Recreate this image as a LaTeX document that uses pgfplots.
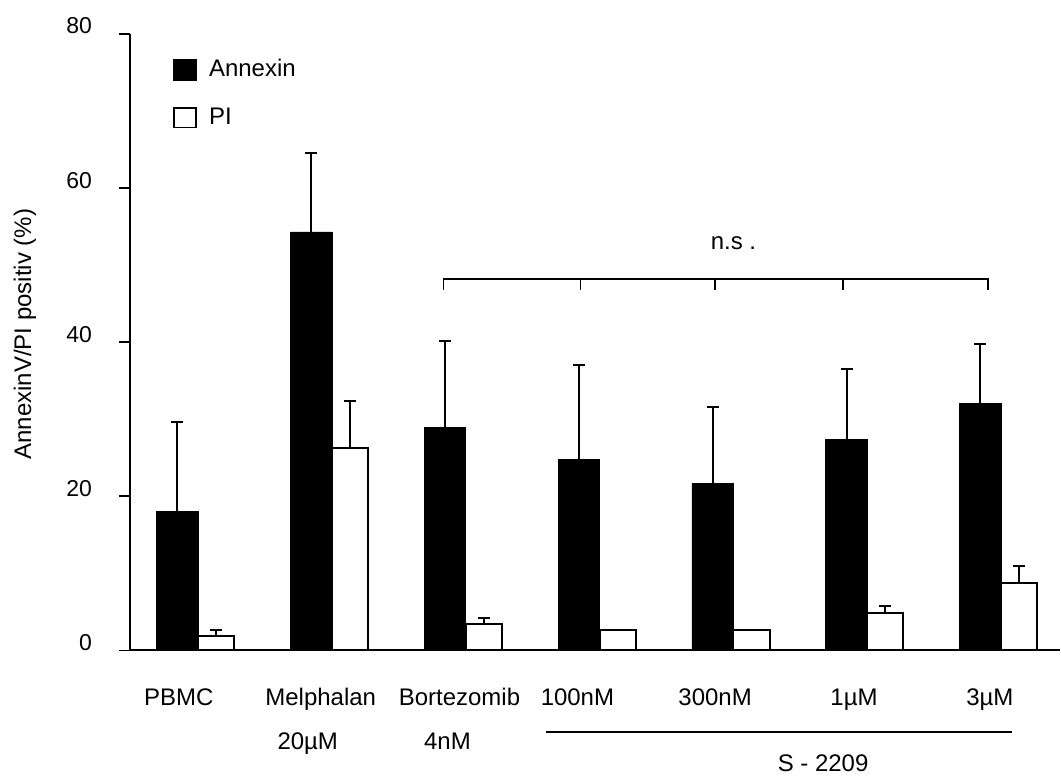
\documentclass[border=0pt]{standalone}
\usepackage{fontspec}
\setmainfont{Liberation Sans}
\usepackage{pgfplots}
\pgfplotsset{compat=1.18}
\begin{document}
\begin{tikzpicture}[font=\fontsize{12}{14}\selectfont]
\begin{axis}[
  name=ax,
  scale only axis,
  width=465.5pt, height=308.5pt,
  xmin=-0.51, xmax=6.44,
  ymin=0, ymax=80,
  clip=false,
  ybar,
  axis x line=bottom, axis y line=left,
  axis line style={-, line width=1pt},
  ytick={0,20,40,60,80},
  tick align=outside,
  major tick length=5.5pt,
  ytick style={line width=0.8pt, black},
  yticklabel style={anchor=base east, xshift=-10pt, font=\fontsize{11.5}{13}\selectfont},
  /pgf/number format/assume math mode=true,
  xtick={-0.144,0.916,1.953,2.834,3.863,4.901,5.916},
  xticklabels={PBMC, Melphalan, Bortezomib, 100nM, 300nM, 1µM, 3µM},
  xtick style={draw=none},
  xticklabel style={anchor=base, yshift=-22pt},
  ylabel={AnnexinV/PI positiv (\%)},
  every axis y label/.style={at={(axis description cs:-0.1128,0.513)}, rotate=90, anchor=center},
  legend image code/.code={\draw[#1, line width=0.8pt] (0pt,-5pt) rectangle (11pt,5pt);},
  legend style={at={(axis description cs:0.040,0.972)}, anchor=north west, draw=none, fill=none,
    row sep=10pt, column sep=4pt, font=\fontsize{12}{14}\selectfont},
  legend cell align=left,
]
\addplot[ybar, bar width=0.31, bar shift=-0.155, fill=black, draw=black,
  error bars/.cd, y dir=plus, y explicit,
  error bar style={line width=1pt, black},
  error mark options={rotate=90, mark size=3pt, line width=1pt, black}]
coordinates {
 (0,18.0) +- (0,11.7)
 (1,54.3) +- (0,10.3)
 (2,28.9) +- (0,11.2)
 (3,24.8) +- (0,12.3)
 (4,21.7) +- (0,9.9)
 (5,27.4) +- (0,9.1)
 (6,32.0) +- (0,7.7)
};
\addlegendentry{Annexin}
\addplot[ybar, bar width=0.27, bar shift=0.135, fill=white, draw=black, line width=1pt,
  error bars/.cd, y dir=plus, y explicit,
  error bar style={line width=1pt, black},
  error mark options={rotate=90, mark size=3pt, line width=1pt, black}]
coordinates {
 (0,1.9) +- (0,0.7)
 (1,26.2) +- (0,6.2)
 (2,3.4) +- (0,0.8)
 (3,2.7) +- (0,0)
 (4,2.7) +- (0,0)
 (5,4.8) +- (0,1.0)
 (6,8.7) +- (0,2.3)
};
\addlegendentry{PI}
% significance bracket
\draw[line width=0.8pt] (axis cs:1.834,46.8) -- (axis cs:1.834,48.2) -- (axis cs:5.901,48.2) -- (axis cs:5.901,46.8);
\draw[line width=0.8pt] (axis cs:2.856,48.2) -- (axis cs:2.856,46.8);
\draw[line width=0.8pt] (axis cs:3.863,48.2) -- (axis cs:3.863,46.8);
\draw[line width=0.8pt] (axis cs:4.819,48.2) -- (axis cs:4.819,46.8);
\node[anchor=base] at (axis cs:4.0,52) {n.s .};
% second row labels
\node[anchor=base] at ([yshift=-49.5pt]axis cs:0.819,0) {20µM};
\node[anchor=base] at ([yshift=-49.5pt]axis cs:1.863,0) {4nM};
\draw[line width=0.8pt] ([yshift=-41pt]axis cs:2.601,0) -- ([yshift=-41pt]axis cs:6.080,0);
\node[anchor=base] at ([yshift=-60.5pt]axis cs:4.67,0) {S - 2209};
\end{axis}
\path[use as bounding box] ([shift={(-65pt,-61.5pt)}]ax.south west) rectangle ([shift={(0pt,17pt)}]ax.north east);
\end{tikzpicture}
\end{document}
